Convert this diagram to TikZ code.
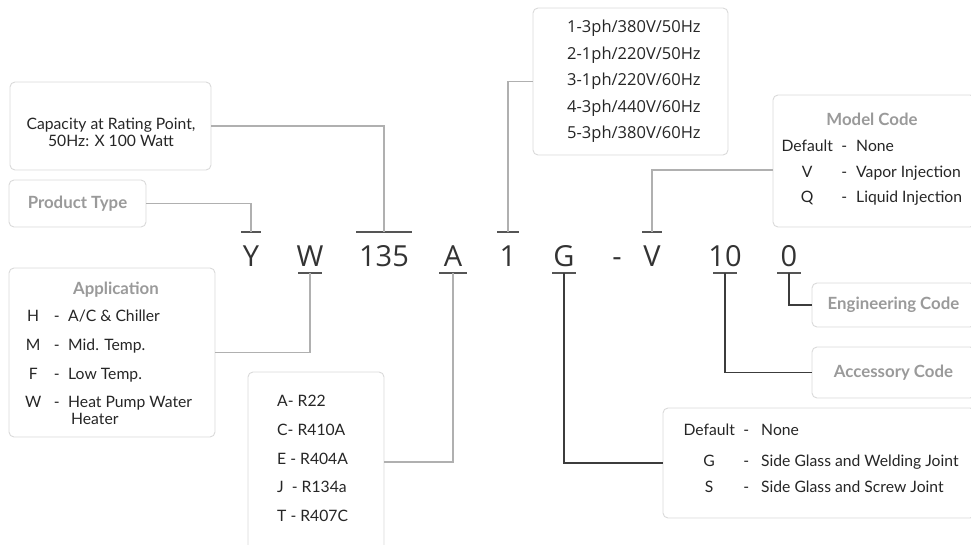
\documentclass[tikz,border=0pt]{standalone}
\usepackage{fontspec}
\setmainfont{Lato}
\newfontfamily\codefont{Open Sans}
\definecolor{boxgray}{HTML}{DADADA}
\definecolor{linegray}{HTML}{B0B0B0}
\definecolor{linedark}{HTML}{3C3C3C}
\definecolor{bargray}{HTML}{555555}
\definecolor{titlegray}{HTML}{9A9A9A}
\definecolor{codegray}{HTML}{333333}
\tikzset{
  infobox/.style={draw=boxgray, line width=0.9pt, rounded corners=5pt, fill=white, inner sep=0pt},
  lightline/.style={draw=linegray, line width=1.3pt},
  darkline/.style={draw=linedark, line width=1.6pt},
  bar/.style={draw=bargray, line width=1.4pt},
  codechar/.style={font=\codefont\fontsize{29}{29}\selectfont, text=codegray, inner sep=0pt, anchor=base},
  boxtitle/.style={font=\bfseries\fontsize{16.8}{18}\selectfont, text=titlegray, inner sep=0pt},
  boxtext/.style={font=\fontsize{15.7}{17}\selectfont, text=black!85, inner sep=0pt, anchor=base west},
}
\newcommand\coderow[4]{\makebox[#1]{#2}\makebox[#3]{-}#4}

\begin{document}
\begin{tikzpicture}[x=1pt, y=-1pt]
\clip (0,0) rectangle (971,545);

% model number
\node[codechar] (Y) at (251,266) {Y};
\node[codechar] (W) at (310,266) {W};
\node[codechar] (135) at (384,266) {135};
\node[codechar] (A) at (453,266) {A};
\node[codechar] (1) at (508,266) {1};
\node[codechar] (G) at (564,266) {G};
\node[codechar] (hyph) at (617,266) {-};
\node[codechar] (V) at (652,266) {V};
\node[codechar] (10) at (725,266) {10};
\node[codechar] (0) at (789,266) {0};

\coordinate (tY) at ([yshift=13pt]Y.north);
\coordinate (t135) at ([yshift=13pt]135.north);
\coordinate (t1) at ([yshift=13pt]1.north);
\coordinate (tV) at ([yshift=13pt]V.north);
\coordinate (bW) at ([yshift=-7pt]W.base);
\coordinate (bA) at ([yshift=-7pt]A.base);
\coordinate (bG) at ([yshift=-7pt]G.base);
\coordinate (b10) at ([yshift=-7pt]10.base);
\coordinate (b0) at ([yshift=-7pt]0.base);

\draw[bar] ([xshift=-10pt]tY) -- ([xshift=10pt]tY);
\draw[bar] ([xshift=-28pt]t135) -- ([xshift=28pt]t135);
\draw[bar] ([xshift=-11pt]t1) -- ([xshift=11pt]t1);
\draw[bar] ([xshift=-10pt]tV) -- ([xshift=10pt]tV);
\draw[bar] ([xshift=-12pt]bW) -- ([xshift=12pt]bW);
\draw[bar] ([xshift=-14pt]bA) -- ([xshift=14pt]bA);
\draw[bar] ([xshift=-12pt]bG) -- ([xshift=12pt]bG);
\draw[bar] ([xshift=-12pt]b10) -- ([xshift=12pt]b10);
\draw[bar] ([xshift=-12pt]b0) -- ([xshift=12pt]b0);

% boxes
\node[infobox, minimum width=201pt, minimum height=88pt] (cap) at (110.5,126) {};
\node[boxtext, anchor=base] (captext) at (111,129.5) {\begin{tabular}[t]{@{}c@{}}Capacity at Rating Point,\\50Hz: X 100 Watt\end{tabular}};

\node[infobox, boxtitle, minimum width=137pt, minimum height=47pt] (prod) at (77.5,203.5) {Product Type};

\node[infobox, minimum width=206pt, minimum height=169pt] (app) at (112,352.5) {};
\node[boxtitle, anchor=base] (apptitle) at (116,294) {Application};
\node[boxtext] (applist) at (21,321.5) {\begin{tabular}[t]{@{}l@{}}
\coderow{24pt}{H}{23pt}{A/C \& Chiller}\\[12pt]
\coderow{24pt}{M}{23pt}{Mid. Temp.}\\[12pt]
\coderow{24pt}{F}{23pt}{Low Temp.}\\[11pt]
\coderow{24pt}{W}{23pt}{Heat Pump Water}\\
\hspace{50pt}Heater
\end{tabular}};

\node[infobox, minimum width=136pt, minimum height=180pt] (ref) at (316,462) {};
\node[boxtext] (reflist) at (277,406.5) {\begin{tabular}[t]{@{}l@{}}
A- R22\\[12pt]
C- R410A\\[12pt]
E - R404A\\[11pt]
J\ \ - R134a\\[12pt]
T - R407C
\end{tabular}};

\node[infobox, minimum width=195pt, minimum height=147pt] (pow) at (630.5,81.5) {};
\node[boxtext, font=\codefont\fontsize{16.5}{26.5}\selectfont] (powlist) at (567,33) {\begin{tabular}[t]{@{}l@{}}
1-3ph/380V/50Hz\\
2-1ph/220V/50Hz\\
3-1ph/220V/60Hz\\
4-3ph/440V/60Hz\\
5-3ph/380V/60Hz
\end{tabular}};

\node[infobox, minimum width=202pt, minimum height=132pt] (model) at (874,161) {};
\node[boxtitle, anchor=base] (modeltitle) at (872,125.5) {Model Code};
\node[boxtext] (modellist) at (782,151.5) {\begin{tabular}[t]{@{}l@{}}
\coderow{50pt}{Default}{24pt}{None}\\[9pt]
\coderow{50pt}{V}{24pt}{Vapor Injection}\\[8pt]
\coderow{50pt}{Q}{24pt}{Liquid Injection}
\end{tabular}};

\node[infobox, minimum width=312pt, minimum height=110pt] (glass) at (819,463) {};
\node[boxtext] (glasslist) at (687,435.5) {\begin{tabular}[t]{@{}l@{}}
\coderow{44pt}{Default}{30pt}{None}\\[14pt]
\coderow{44pt}{G}{30pt}{Side Glass and Welding Joint}\\[9pt]
\coderow{44pt}{S}{30pt}{Side Glass and Screw Joint}
\end{tabular}};

\node[infobox, boxtitle, minimum width=163pt, minimum height=44pt] (eng) at (893.5,305) {Engineering Code};
\node[infobox, boxtitle, minimum width=163pt, minimum height=51pt] (acc) at (893.5,372.5) {Accessory Code};

% connectors
\draw[lightline] (prod.east) -| (tY);
\draw[lightline] (cap.east) -| (t135);
\draw[lightline] (pow.west) -| (t1);
\draw[lightline] ([yshift=-9pt]model.west) -| (tV);
\draw[lightline] (app.east) -| (bW);
\draw[lightline] (ref.east) -| (bA);
\draw[darkline] (glass.west) -| (bG);
\draw[darkline] (acc.west) -| (b10);
\draw[darkline] (eng.west) -| (b0);
\end{tikzpicture}
\end{document}
